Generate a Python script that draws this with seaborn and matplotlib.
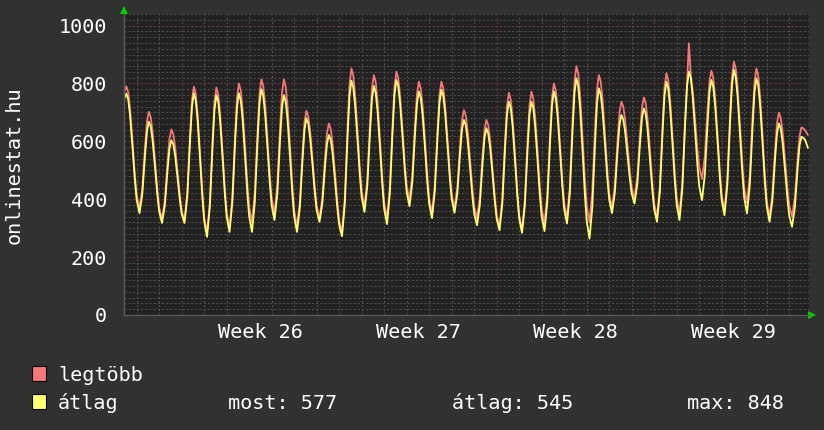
import numpy as np
import pandas as pd
import seaborn as sns
import matplotlib.pyplot as plt
from matplotlib.patches import Rectangle

nan = np.nan

# órák a napon belül, amikor leolvastuk az értékeket
hours = [0, 3, 6, 9, 11, 13, 15, 17, 20, 22]
first_day = -3  # 25. hét péntek (0 = 26. hét hétfő)

# legtöbb (max) - soronként egy nap
legtobb = [
    [nan, nan, nan, 720, 772, 790, 769, 710, 579, 486],
    [414, 368, 438, 585, 669, 702, 683, 631, 516, 434],
    [371, 330, 395, 532, 610, 641, 625, 581, 483, 413],
    [360, 325, 422, 627, 743, 789, 764, 693, 536, 424],
    [338, 282, 388, 610, 736, 786, 762, 694, 543, 436],
    [353, 300, 405, 625, 750, 800, 776, 709, 560, 454],
    [373, 320, 424, 641, 765, 814, 791, 726, 583, 481],
    [403, 352, 449, 652, 768, 814, 789, 717, 560, 448],
    [361, 305, 389, 566, 666, 706, 687, 636, 521, 439],
    [376, 335, 404, 548, 629, 662, 643, 590, 474, 391],
    [326, 285, 404, 654, 795, 852, 828, 761, 613, 508],
    [427, 374, 470, 670, 784, 829, 804, 735, 582, 473],
    [388, 334, 440, 664, 790, 841, 819, 757, 619, 521],
    [446, 397, 483, 663, 765, 806, 783, 720, 579, 479],
    [402, 352, 447, 647, 761, 806, 784, 723, 588, 491],
    [417, 369, 440, 589, 674, 708, 689, 637, 521, 439],
    [375, 334, 405, 555, 640, 674, 656, 604, 490, 408],
    [346, 305, 402, 606, 722, 768, 744, 678, 531, 426],
    [345, 293, 394, 604, 724, 772, 749, 686, 545, 444],
    [367, 317, 418, 631, 752, 800, 777, 711, 567, 464],
    [385, 334, 444, 676, 807, 860, 833, 757, 590, 471],
    [379, 320, 427, 651, 778, 829, 806, 742, 599, 498],
    [420, 369, 446, 608, 700, 737, 720, 674, 571, 497],
    [441, 404, 477, 630, 717, 752, 731, 674, 546, 455],
    [384, 339, 443, 661, 785, 835, 811, 743, 594, 487],
    [405, 352, 457, 676, 800, 939, 831, 778, 660, 576],
    [512, 470, 549, 713, 807, 844, 820, 752, 603, 497],
    [415, 362, 470, 695, 824, 875, 851, 782, 631, 523],
    [440, 386, 484, 689, 805, 852, 826, 755, 596, 483],
    [395, 339, 415, 573, 663, 699, 681, 631, 520, 441],
    [379, 340, 405, 540, 617, 648, 645, 638, 622, nan],
]

# átlag
atlag = [
    [nan, nan, nan, 700, 750, 765, 744, 687, 559, 468],
    [397, 352, 418, 557, 636, 668, 651, 602, 493, 416],
    [357, 318, 378, 504, 575, 604, 590, 550, 461, 398],
    [349, 318, 412, 609, 721, 766, 741, 672, 518, 409],
    [325, 270, 373, 589, 711, 760, 736, 670, 524, 419],
    [339, 287, 388, 598, 718, 766, 742, 675, 527, 421],
    [340, 287, 391, 607, 731, 780, 757, 694, 554, 455],
    [378, 328, 419, 609, 717, 760, 736, 670, 524, 419],
    [339, 287, 370, 542, 641, 680, 662, 612, 501, 422],
    [361, 322, 385, 517, 592, 622, 605, 556, 447, 370],
    [311, 272, 385, 622, 756, 810, 787, 724, 583, 483],
    [406, 356, 447, 639, 748, 791, 767, 700, 553, 448],
    [366, 314, 419, 638, 762, 812, 790, 729, 594, 498],
    [424, 376, 459, 633, 732, 772, 750, 689, 554, 457],
    [383, 335, 428, 623, 734, 778, 757, 697, 566, 472],
    [400, 353, 420, 562, 642, 674, 656, 605, 492, 412],
    [350, 310, 380, 528, 612, 645, 627, 578, 469, 392],
    [332, 293, 386, 582, 693, 737, 714, 651, 511, 411],
    [334, 284, 379, 578, 692, 737, 715, 652, 514, 415],
    [339, 290, 391, 603, 724, 772, 749, 685, 544, 444],
    [366, 316, 421, 642, 768, 818, 790, 713, 541, 419],
    [325, 264, 373, 601, 731, 783, 761, 701, 568, 473],
    [399, 352, 423, 572, 657, 691, 676, 633, 538, 471],
    [419, 385, 454, 599, 681, 714, 694, 640, 518, 432],
    [365, 322, 424, 637, 758, 806, 782, 715, 567, 462],
    [381, 328, 436, 661, 790, 841, 819, 757, 619, 521],
    [446, 397, 484, 667, 771, 812, 789, 723, 579, 476],
    [396, 345, 450, 671, 797, 847, 822, 753, 599, 490],
    [406, 351, 449, 655, 771, 818, 793, 724, 570, 461],
    [377, 322, 393, 543, 628, 662, 644, 594, 484, 405],
    [344, 305, 370, 507, 585, 616, 612, 605, 577, nan],
]

week_mid = [3.5, 10.5, 17.5, 24.5]
week_labels = ['Week 26', 'Week 27', 'Week 28', 'Week 29']
week_starts = [0, 7, 14, 21, 28]
stat_labels = ['most: 577', 'átlag: 545', 'max: 848']

rows = []
for i, (mx, av) in enumerate(zip(legtobb, atlag)):
    for h, a, b in zip(hours, mx, av):
        rows.append({'t': first_day + i + h / 24, 'legtöbb': a, 'átlag': b})
df = pd.DataFrame(rows)

bg = '#313131'
red = '#f87878'
yel = '#ffff70'
grid_grey = '#4e4e4e'
grid_red = '#6e3636'

sns.set_theme(style='dark')
plt.rcParams['font.family'] = ['DejaVu Sans Mono']

fig = plt.figure(figsize=(8.24, 4.30), dpi=100, facecolor=bg)
ax = fig.add_axes([124 / 824, 115 / 430, 685 / 824, 301 / 430])
ax.set_facecolor('#222222')

sns.lineplot(data=df.dropna(subset=['legtöbb']), x='t', y='legtöbb', color=red,
             lw=1.3, estimator=None, ax=ax)
sns.lineplot(data=df.dropna(subset=['átlag']), x='t', y='átlag', color=yel,
             lw=1.3, estimator=None, ax=ax)

ax.set_xlim(-2.564, 27.88)
ax.set_ylim(0, 1040)

# rács
ax.set_yticks(range(0, 1001, 200))
ax.set_yticks([v for v in range(0, 1041, 20) if v % 200], minor=True)
ax.set_xticks(week_mid, labels=week_labels)
ax.set_xticks([d for d in range(-2, 28) if d % 7], minor=True)
ax.grid(False)
ax.grid(which='minor', color=grid_grey, ls=(0, (2, 2)), lw=0.75)
ax.grid(which='major', axis='y', color=grid_red, ls=(0, (2, 2)), lw=0.75)
for w in week_starts:
    ax.axvline(w, color=grid_red, ls=(0, (2, 2)), lw=0.75, zorder=0.5)
ax.set_axisbelow(True)

ax.tick_params(which='both', length=0, colors='white', labelsize=14.5)
ax.tick_params(axis='y', pad=12)
ax.tick_params(axis='x', pad=6)
ax.set_xlabel('')
ax.set_ylabel('')
for s in ['top', 'right']:
    ax.spines[s].set_visible(False)
for s in ['left', 'bottom']:
    ax.spines[s].set_color('#5a5a5a')
    ax.spines[s].set_linewidth(1)

# zöld nyilak
ax.plot([0], [1.013], marker='^', ms=6, color='#00d000', mew=0,
        transform=ax.transAxes, clip_on=False)
ax.plot([1.005], [0], marker='>', ms=6, color='#00d000', mew=0,
        transform=ax.transAxes, clip_on=False)

fig.text(14 / 824, 1 - 165 / 430, 'onlinestat.hu', rotation=90, ha='center',
         va='center', color='white', fontsize=14.5)

# jelmagyarázat
for y0, c in [(366, red), (394, yel)]:
    fig.add_artist(Rectangle((32 / 824, 1 - (y0 + 15) / 430), 14 / 824, 15 / 430,
                             transform=fig.transFigure, facecolor=c,
                             edgecolor='black', lw=0.8))
fig.text(58 / 824, 1 - 381 / 430, 'legtöbb', color='white', fontsize=14.5, va='baseline')
fig.text(58 / 824, 1 - 409 / 430, 'átlag', color='white', fontsize=14.5, va='baseline')
for x0, t in zip([228, 452, 687], stat_labels):
    fig.text(x0 / 824, 1 - 409 / 430, t, color='white', fontsize=14.5, va='baseline')

fig.savefig('out.png', dpi=100, facecolor=bg)
